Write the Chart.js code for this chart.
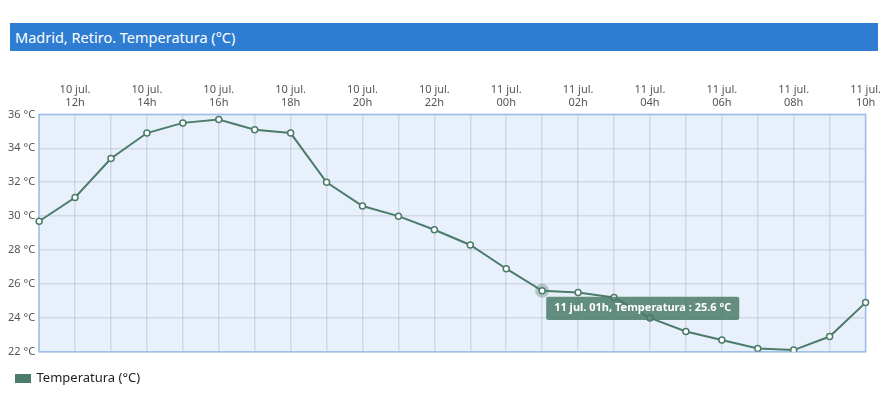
<!DOCTYPE html>
<html>
<head>
<meta charset="utf-8">
<script src="https://cdn.jsdelivr.net/npm/chart.js@4"></script>
<style>
    body { margin: 0; background: #ffffff; font-family: "Noto Sans", sans-serif; overflow: hidden; }
    #titulo {
        position: absolute; left: 10px; top: 23px; width: 868px; height: 28px;
        background: #2e7dd2; color: #ffffff; font-size: 14.5px; line-height: 28px;
        padding-left: 5px; box-sizing: border-box;
    }
    #wrap { position: absolute; left: 0; top: 78px; width: 886px; height: 317px; }
</style>
</head>
<body>
<div id="titulo">Madrid, Retiro. Temperatura (°C)</div>
<div id="wrap"><canvas id="tempChart"></canvas></div>
<script>
const dias = [
    "10 jul.", "10 jul.", "10 jul.", "10 jul.", "10 jul.", "10 jul.", "10 jul.",
    "10 jul.", "10 jul.", "10 jul.", "10 jul.", "10 jul.", "10 jul.",
    "11 jul.", "11 jul.", "11 jul.", "11 jul.", "11 jul.", "11 jul.",
    "11 jul.", "11 jul.", "11 jul.", "11 jul.", "11 jul."
];
const horas = [
    "11h", "12h", "13h", "14h", "15h", "16h", "17h", "18h", "19h", "20h", "21h", "22h", "23h",
    "00h", "01h", "02h", "03h", "04h", "05h", "06h", "07h", "08h", "09h", "10h"
];
const temperatura = [
    29.7, 31.1, 33.4, 34.9, 35.5, 35.7, 35.1, 34.9, 32.0, 30.6, 30.0, 29.2, 28.3,
    26.9, 25.6, 25.5, 25.2, 24.0, 23.2, 22.7, 22.2, 22.1, 22.9, 24.9
];
const yTicks = [22, 24, 26, 28, 30, 32, 34, 36];
const puntoActivo = 14;

const verde = "#4b7b69";
const rejilla = "rgba(120,125,140,0.2)";
const textoEje = { color: "#555555", font: { family: "Noto Sans", size: 11 } };

// fondo azul claro, borde del area y halo del punto activo
const fondoPlot = {
    id: "fondoPlot",
    beforeDraw(chart) {
        const { ctx, chartArea: a } = chart;
        ctx.save();
        ctx.fillStyle = "#e8f0fc";
        ctx.fillRect(a.left, a.top, a.right - a.left, a.bottom - a.top);
        ctx.restore();
    },
    beforeDatasetsDraw(chart) {
        const { ctx, chartArea: a } = chart;
        ctx.save();
        ctx.strokeStyle = "#9dbdee";
        ctx.lineWidth = 1.5;
        ctx.strokeRect(a.left, a.top, a.right - a.left, a.bottom - a.top);
        const p = chart.getDatasetMeta(0).data[puntoActivo];
        ctx.fillStyle = "rgba(75,123,105,0.35)";
        ctx.beginPath();
        ctx.arc(p.x, p.y, 7, 0, Math.PI * 2);
        ctx.fill();
        ctx.restore();
    }
};

Chart.Tooltip.positioners.junto = function (elements) {
    if (!elements.length) return false;
    const el = elements[0].element;
    return { x: el.x + 6, y: el.y };
};

const chart = new Chart(document.getElementById("tempChart"), {
    type: "line",
    data: {
        labels: dias.map((d, i) => d + " " + horas[i]),
        datasets: [{
            label: "Temperatura (°C)",
            data: temperatura,
            borderColor: verde,
            backgroundColor: verde,
            borderWidth: 2,
            tension: 0,
            pointRadius: 3,
            pointBorderWidth: 1.5,
            pointBackgroundColor: "#ffffff",
            pointBorderColor: verde,
            pointHoverRadius: 3,
            pointHoverBorderWidth: 1.5,
            pointHoverBorderColor: verde,
            pointHoverBackgroundColor: "#ffffff"
        }]
    },
    options: {
        responsive: true,
        maintainAspectRatio: false,
        animation: false,
        layout: { padding: { left: 4, right: 0, top: 0, bottom: 0 } },
        scales: {
            x: {
                position: "top",
                offset: false,
                grid: { color: rejilla, lineWidth: 1.5, drawTicks: false },
                border: { display: false },
                ticks: {
                    ...textoEje,
                    autoSkip: false,
                    maxRotation: 0,
                    padding: 5,
                    callback: (v, i) => i % 2 === 1 ? [dias[i], horas[i]] : ""
                }
            },
            y: {
                min: yTicks[0],
                max: yTicks[yTicks.length - 1],
                afterBuildTicks: axis => { axis.ticks = yTicks.map(v => ({ value: v })); },
                grid: { color: rejilla, lineWidth: 1.5, drawTicks: false },
                border: { display: false },
                ticks: { ...textoEje, padding: 4, callback: v => v + " °C" }
            }
        },
        plugins: {
            legend: {
                position: "bottom",
                align: "start",
                // titulo vacio solo para separar la leyenda del grafico
                title: { display: true, text: "", font: { size: 1 }, padding: { top: 7, bottom: 0 } },
                labels: {
                    boxWidth: 14,
                    boxHeight: 7,
                    padding: 12,
                    color: "#222222",
                    font: { family: "Noto Sans", size: 13 }
                }
            },
            tooltip: {
                position: "junto",
                xAlign: "left",
                yAlign: "top",
                caretSize: 0,
                caretPadding: 6,
                cornerRadius: 2,
                backgroundColor: "rgba(75,123,105,0.85)",
                displayColors: false,
                padding: { left: 8, right: 8, top: 5, bottom: 5 },
                bodyFont: { family: "Noto Sans", size: 11, weight: "bold" },
                bodyColor: "#ffffff",
                callbacks: {
                    title: () => "",
                    label: c => c.label + ", Temperatura : " + c.parsed.y + " °C"
                }
            }
        }
    },
    plugins: [fondoPlot]
});

const activos = [{ datasetIndex: 0, index: puntoActivo }];
const pt = chart.getDatasetMeta(0).data[puntoActivo];
chart.setActiveElements(activos);
chart.tooltip.setActiveElements(activos, { x: pt.x, y: pt.y });
chart.update();
</script>
</body>
</html>
